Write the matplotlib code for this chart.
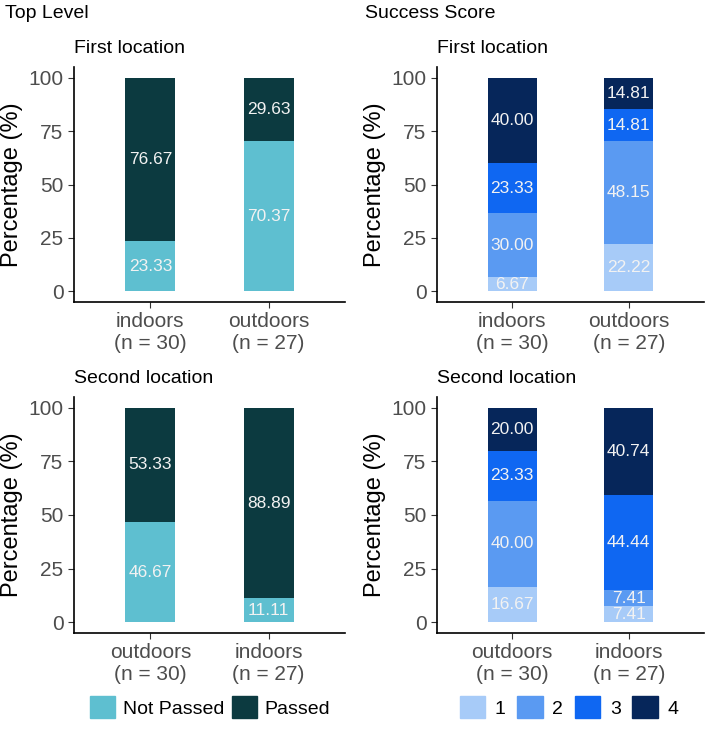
import numpy as np
import matplotlib
matplotlib.use("Agg")
import matplotlib.pyplot as plt
from matplotlib.patches import Patch

plt.rcParams["font.family"] = ["Liberation Sans", "DejaVu Sans"]

# ---------------- data ----------------
first_cats = ["indoors\n(n = 30)", "outdoors\n(n = 27)"]
second_cats = ["outdoors\n(n = 30)", "indoors\n(n = 27)"]

level_labels = ["Not Passed", "Passed"]
level_first = {"Not Passed": [23.33, 70.37], "Passed": [76.67, 29.63]}
level_second = {"Not Passed": [46.67, 11.11], "Passed": [53.33, 88.89]}

score_labels = ["1", "2", "3", "4"]
score_first = {"1": [6.67, 22.22], "2": [30.00, 48.15], "3": [23.33, 14.81], "4": [40.00, 14.81]}
score_second = {"1": [16.67, 7.41], "2": [40.00, 7.41], "3": [23.33, 44.44], "4": [20.00, 40.74]}

level_colors = {"Not Passed": "#5EBFD0", "Passed": "#0C3A40"}
score_colors = {"1": "#A7CBF8", "2": "#5A9AF2", "3": "#0F67F2", "4": "#06265A"}

W, H = 711, 729
fig = plt.figure(figsize=(W / 100, H / 100), dpi=100)


def px_axes(x0, y0, x1, y1):
    return fig.add_axes([x0 / W, 1 - y1 / H, (x1 - x0) / W, (y1 - y0) / H])


def stacked(ax, cats, data, order, colors, title):
    x = np.arange(1, len(cats) + 1)
    bottom = np.zeros(len(cats))
    for key in order:
        vals = np.array(data[key])
        ax.bar(x, vals, width=0.42, bottom=bottom, color=colors[key], linewidth=0)
        for xi, b, v in zip(x, bottom, vals):
            ax.text(xi, b + v / 2, f"{v:.2f}", ha="center", va="center",
                    color="#F2F2F2", fontsize=12.5)
        bottom += vals
    ax.set_xlim(0.355, 2.645)
    ax.set_ylim(-5, 105)
    ax.set_yticks([0, 25, 50, 75, 100])
    ax.set_xticks(x)
    ax.set_xticklabels(cats, fontsize=15, color="#4D4D4D", linespacing=1.2)
    ax.tick_params(axis="y", labelsize=15, labelcolor="#4D4D4D", color="#333333", length=4)
    ax.tick_params(axis="x", color="#333333", length=4)
    ax.set_ylabel("Percentage (%)", fontsize=17, labelpad=4)
    for s in ["top", "right"]:
        ax.spines[s].set_visible(False)
    for s in ["left", "bottom"]:
        ax.spines[s].set_linewidth(1.2)
    ax.set_title(title, loc="left", fontsize=14, pad=10)


ax1 = px_axes(74, 67, 345, 302)
stacked(ax1, first_cats, level_first, level_labels, level_colors, "First location")
ax2 = px_axes(74, 397, 345, 633)
stacked(ax2, second_cats, level_second, level_labels, level_colors, "Second location")
ax3 = px_axes(437, 67, 704, 302)
stacked(ax3, first_cats, score_first, score_labels, score_colors, "First location")
ax4 = px_axes(437, 397, 704, 633)
stacked(ax4, second_cats, score_second, score_labels, score_colors, "Second location")

fig.text(5 / W, 1 - 14 / H, "Top Level", fontsize=14, va="center", ha="left")
fig.text(365 / W, 1 - 14 / H, "Success Score", fontsize=14, va="center", ha="left")

lh = [Patch(color=level_colors[k]) for k in level_labels]
fig.legend(lh, level_labels, loc="center", bbox_to_anchor=(210 / W, 1 - 707 / H),
           ncol=2, frameon=False, fontsize=14, handlelength=1.3, handleheight=1.3,
           handletextpad=0.4, columnspacing=0.4)
sh = [Patch(color=score_colors[k]) for k in score_labels]
fig.legend(sh, score_labels, loc="center", bbox_to_anchor=(569 / W, 1 - 707 / H),
           ncol=4, frameon=False, fontsize=14, handlelength=1.3, handleheight=1.3,
           handletextpad=0.5, columnspacing=0.6)

fig.savefig("out.png", dpi=100, facecolor="white")
plt.close("all")
